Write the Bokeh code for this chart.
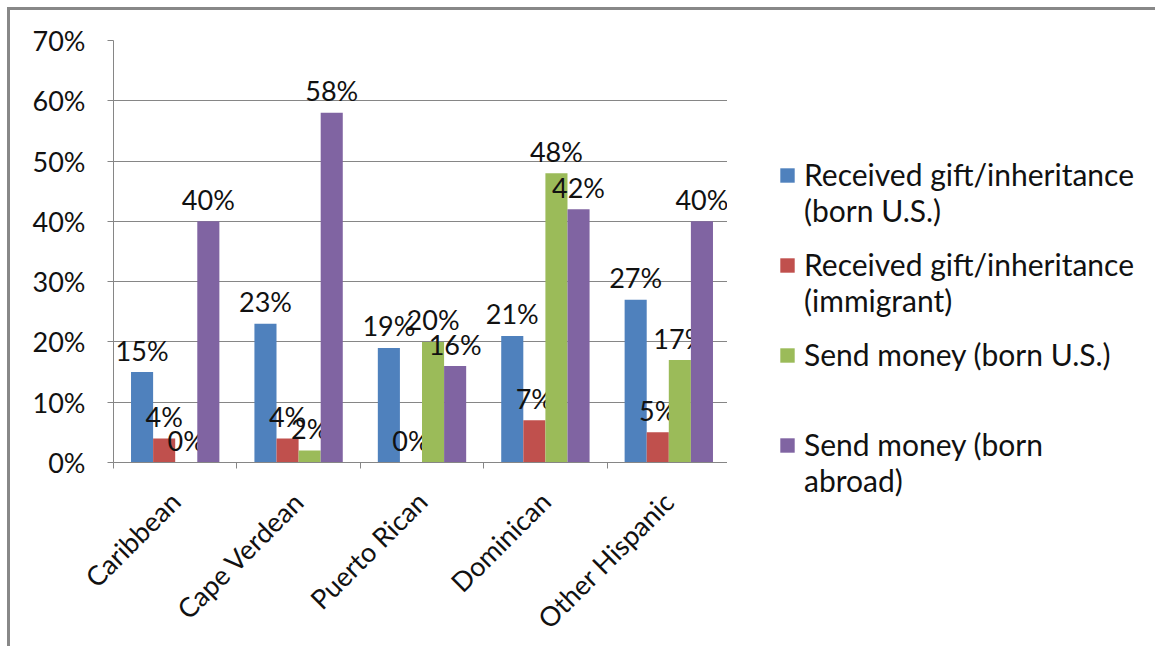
import math
from bokeh.plotting import figure
from bokeh.layouts import row
from bokeh.models import (ColumnDataSource, FixedTicker, PrintfTickFormatter, Legend,
                          LegendItem, Range1d)
from bokeh.core.properties import value
from bokeh.embed import file_html
from bokeh.resources import INLINE

categories = ["Caribbean", "Cape Verdean", "Puerto Rican", "Dominican", "Other Hispanic"]
series_names = ["Received gift/inheritance\n(born U.S.)",
                "Received gift/inheritance\n(immigrant)",
                "Send money (born U.S.)",
                "Send money (born\nabroad)"]
gift_born_us = [15, 23, 19, 21, 27]
gift_immigrant = [4, 4, 0, 7, 5]
send_born_us = [0, 2, 20, 48, 17]
send_born_abroad = [40, 58, 16, 42, 40]
y_ticks = [0, 10, 20, 30, 40, 50, 60, 70]

series = [gift_born_us, gift_immigrant, send_born_us, send_born_abroad]
colors = ["#4F81BD", "#C0504D", "#9BBB59", "#8064A2"]

FONT = "Lato"
FS = "27px"
TXT = "#111111"
BORDER = "3px solid #888888"

# main chart (canvas starts at window x=10, y=10 because of its border + margin)
p = figure(width=720, height=639, output_backend="svg", toolbar_location=None,
           x_range=Range1d(0, len(categories)), y_range=Range1d(0, 70),
           min_border_left=103, min_border_right=0, min_border_top=30,
           min_border_bottom=186, frame_align=False,
           styles={"margin-left": "7px", "margin-top": "7px",
                   "border-left": BORDER, "border-top": BORDER})
p.outline_line_color = None
p.background_fill_color = "white"
p.border_fill_color = "white"

bw = 0.179
offsets = [-1.5 * bw, -0.5 * bw, 0.5 * bw, 1.5 * bw]
for vals, off, col in zip(series, offsets, colors):
    src = ColumnDataSource(dict(
        x=[i + 0.5 + off for i in range(len(categories))],
        top=vals,
        lab=["%d%%" % v for v in vals]))
    p.vbar(x="x", top="top", width=bw, bottom=0, source=src,
           fill_color=col, line_color=None)
    p.text(x="x", y="top", text="lab", source=src, text_align="center",
           text_baseline="alphabetic", y_offset=-22, text_font=value(FONT),
           text_font_size=FS, text_color=TXT)

# axes
p.yaxis.ticker = FixedTicker(ticks=y_ticks)
p.yaxis.formatter = PrintfTickFormatter(format="%d%%")
p.yaxis.axis_line_color = "#868686"
p.yaxis.major_tick_line_color = "#868686"
p.yaxis.major_tick_out = 6
p.yaxis.major_tick_in = 0
p.yaxis.minor_tick_line_color = None
p.yaxis.major_label_standoff = 22
p.yaxis.major_label_text_font = FONT
p.yaxis.major_label_text_font_size = FS
p.yaxis.major_label_text_color = TXT

p.xaxis.ticker = FixedTicker(ticks=[i + 0.5 for i in range(len(categories))],
                             minor_ticks=list(range(len(categories) + 1)))
p.xaxis.major_label_overrides = {i + 0.5: c for i, c in enumerate(categories)}
p.xaxis.axis_line_color = "#868686"
p.xaxis.major_tick_line_color = None
p.xaxis.major_tick_out = 0
p.xaxis.major_tick_in = 0
p.xaxis.minor_tick_line_color = "#868686"
p.xaxis.minor_tick_out = 6
p.xaxis.minor_tick_in = 0
p.xaxis.major_label_orientation = math.pi / 4
p.xaxis.major_label_standoff = 28
p.xaxis.major_label_text_font = FONT
p.xaxis.major_label_text_font_size = FS
p.xaxis.major_label_text_color = TXT

p.xgrid.grid_line_color = None
p.ygrid.ticker = FixedTicker(ticks=y_ticks)
p.ygrid.grid_line_color = "#868686"

# legend panel: swatch renderers share the series colours (one point each, out of view)
q = figure(width=428, height=636, output_backend="svg", toolbar_location=None,
           x_range=Range1d(0, 1), y_range=Range1d(0, 1),
           x_axis_location=None, y_axis_location=None, min_border=0,
           frame_align=False,
           styles={"margin-top": "7px", "border-top": BORDER})
q.outline_line_color = None
q.xgrid.grid_line_color = None
q.ygrid.grid_line_color = None
swatches = []
for vals, col in zip(series, colors):
    swatches.append(q.vbar(x=[5], top=[max(vals)], width=0.1,
                           fill_color=col, line_color=None))

# squares (one per series, aligned with the first text line)
leg_sq = Legend(items=[LegendItem(label=" ", renderers=[r]) for r in swatches],
                location=(51, 192))
leg_sq.border_line_color = None
leg_sq.background_fill_alpha = 0
leg_sq.padding = 0
leg_sq.margin = 0
leg_sq.glyph_width = 18
leg_sq.glyph_height = 18
leg_sq.label_height = 18
leg_sq.label_width = 1
leg_sq.label_standoff = 0
leg_sq.spacing = 72
leg_sq.label_text_font_size = "10px"
q.add_layout(leg_sq, "center")

# texts (two lines per entry so every entry starts at the top of its slot)
labels = [n if "\n" in n else n + "\n " for n in series_names]
leg_tx = Legend(items=[LegendItem(label=n, renderers=[r]) for n, r in zip(labels, swatches)],
                location=(77, 147))
leg_tx.border_line_color = None
leg_tx.background_fill_alpha = 0
leg_tx.padding = 0
leg_tx.margin = 0
leg_tx.glyph_width = 0
leg_tx.glyph_height = 18
leg_tx.label_standoff = 0
leg_tx.label_height = 74
leg_tx.spacing = 16
leg_tx.label_text_font = FONT
leg_tx.label_text_font_size = "30px"
leg_tx.label_text_line_height = 1.35
leg_tx.label_text_color = TXT
q.add_layout(leg_tx, "center")

layout = row(p, q, spacing=0)

open("out.html", "w").write(file_html(layout, INLINE))
